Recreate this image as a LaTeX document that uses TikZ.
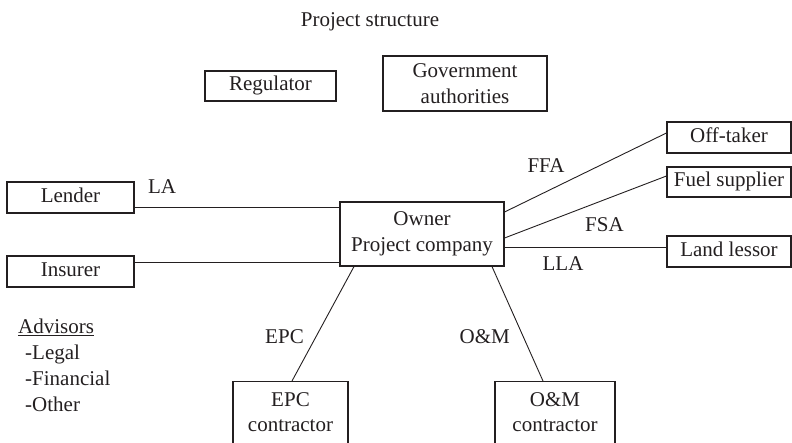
\documentclass[tikz,border=0pt]{standalone}
\usepackage{fontspec}
\setmainfont{Liberation Serif}
\definecolor{inkc}{RGB}{35,31,32}
\begin{document}
\begin{tikzpicture}[x=1pt,y=-1pt,
  every node/.style={font=\fontsize{21}{25.8}\selectfont, text=inkc},
  box/.style={draw=inkc, line width=1.1pt, inner sep=0pt, align=center},
  single/.style={box, text height=14.5pt, text depth=4.5pt},
  link/.style={draw=inkc, line width=0.9pt},
  lbl/.style={inner sep=0pt, anchor=base}]
\useasboundingbox (0,0) rectangle (792,443);
\clip (0,0) rectangle (792,443);

% title
\node[lbl] (title) at (370,27) {Project structure};

% upper boxes
\node[single, minimum width=131pt, minimum height=30pt] (reg) at (270.5,86) {Regulator};
\node[box, minimum width=164pt, minimum height=55pt] (gov) at (465,83.5) {Government\\authorities};

% left side
\node[single, minimum width=127pt, minimum height=31pt] (lender) at (70.5,197.5) {Lender};
\node[single, minimum width=127pt, minimum height=31pt] (insurer) at (70.5,271.5) {Insurer};

% central company
\node[box, minimum width=164pt, minimum height=64pt] (owner) at (422,234) {Owner\\Project company};

% right side
\node[single, minimum width=124pt, minimum height=31pt] (offtaker) at (729,137.5) {Off-taker};
\node[single, minimum width=124pt, minimum height=30pt] (fuel) at (729,182) {Fuel supplier};
\node[single, minimum width=124pt, minimum height=31pt] (land) at (729,251.5) {Land lessor};

% contractors (boxes run off the lower edge)
\node[box, minimum width=115pt, minimum height=80pt, anchor=north] (epc) at (290.5,381) {};
\node[inner sep=0pt, anchor=north, align=center] (epctext) at (290.5,392) {EPC\\contractor};
\node[box, minimum width=120pt, minimum height=80pt, anchor=north] (om) at (555,381) {};
\node[inner sep=0pt, anchor=north, align=center] (omtext) at (555,392) {O\&M\\contractor};

% advisors list
\node[inner sep=0pt, anchor=north west, align=left] (adv) at (18,319)
  {\underline{Advisors}\\\hspace*{7pt}-Legal\\\hspace*{7pt}-Financial\\\hspace*{7pt}-Other};

% contract links
\draw[link] ([yshift=-9.5pt]lender.east) -- ([yshift=-9.5pt]lender.east -| owner.west);
\draw[link] ([yshift=9.5pt]insurer.east) -- ([yshift=9.5pt]insurer.east -| owner.west);
\draw[link] ([yshift=22pt]owner.east) -- ([yshift=4.5pt]offtaker.west);
\draw[link] ([yshift=-4pt]owner.east) -- ([yshift=6pt]fuel.west);
\draw[link] ([yshift=-13pt]owner.east) -- ([yshift=-13pt]owner.east -| land.west);
\draw[link] ([xshift=-68pt]owner.south) -- ([xshift=1.5pt]epc.north);
\draw[link] ([xshift=70pt]owner.south) -- ([xshift=-12pt]om.north);

% contract labels
\node[lbl] (la) at (162,194) {LA};
\node[lbl] (ffa) at (546,172.7) {FFA};
\node[lbl] (fsa) at (604.5,231.7) {FSA};
\node[lbl] (lla) at (563,271) {LLA};
\node[lbl] (epclbl) at (284.5,343.3) {EPC};
\node[lbl] (omlbl) at (484.7,343.3) {O\&M};
\end{tikzpicture}
\end{document}
